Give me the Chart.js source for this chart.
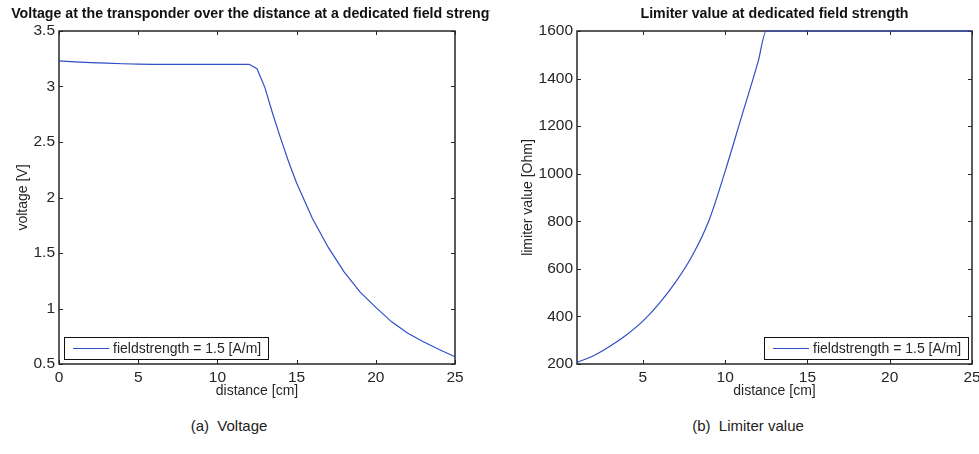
<!DOCTYPE html>
<html>
<head>
<meta charset="utf-8">
<script src="https://cdn.jsdelivr.net/npm/chart.js@4/dist/chart.umd.min.js"></script>
<style>
body { margin: 0; background: #fff; width: 979px; height: 454px; position: relative; overflow: hidden; font-family: "Liberation Sans", Arial, sans-serif; }
.box { position: absolute; top: 0; height: 400px; }
#boxA { left: 0; width: 490px; }
#boxB { left: 490px; width: 489px; }
.cap { position: absolute; top: 417px; font-size: 15px; color: #222; transform: translateX(-50%); white-space: nowrap; }
</style>
</head>
<body>
<div class="box" id="boxA"><canvas id="chartA"></canvas></div>
<div class="box" id="boxB"><canvas id="chartB"></canvas></div>
<div class="cap" style="left:229px">(a)&nbsp; Voltage</div>
<div class="cap" style="left:748px">(b)&nbsp; Limiter value</div>
<script>
// values
let distanceA = [0, 1, 2, 3, 4, 5, 6, 7, 8, 9, 10, 11, 12, 12.5, 13, 13.5, 14, 14.5, 15, 16, 17, 18, 19, 20, 21, 22, 23, 24, 25];
let voltage = [3.23, 3.222, 3.215, 3.21, 3.205, 3.202, 3.2, 3.2, 3.2, 3.2, 3.2, 3.2, 3.2, 3.16, 2.99, 2.75, 2.53, 2.32, 2.13, 1.81, 1.55, 1.33, 1.15, 1.01, 0.88, 0.78, 0.70, 0.63, 0.565];

let distanceB = [1, 2, 3, 4, 5, 6, 7, 8, 9, 10, 11, 12, 12.5, 13, 15, 20, 25];
let limiter = [207, 235, 275, 322, 380, 455, 545, 655, 800, 1010, 1240, 1470, 1600, 1600, 1600, 1600, 1600];

let seriesLabel = 'fieldstrength = 1.5 [A/m]';
let titleA = 'Voltage at the transponder over the distance at a dedicated field strength';
let titleB = 'Limiter value at dedicated field strength';

const ink = '#262626';
const lineBlue = '#2f4fc6';

// matlab style box with inward ticks on all four sides
const axesBox = {
    id: 'axesBox',
    beforeDatasetsDraw(chart) {
        const { ctx, chartArea: a, scales: { x, y } } = chart;
        ctx.save();
        ctx.strokeStyle = ink;
        ctx.lineWidth = 1;
        ctx.beginPath();
        x.ticks.forEach(t => {
            let px = Math.round(x.getPixelForValue(t.value)) + 0.5;
            ctx.moveTo(px, a.bottom); ctx.lineTo(px, a.bottom - 4);
            ctx.moveTo(px, a.top); ctx.lineTo(px, a.top + 4);
        });
        y.ticks.forEach(t => {
            let py = Math.round(y.getPixelForValue(t.value)) + 0.5;
            ctx.moveTo(a.left, py); ctx.lineTo(a.left + 4, py);
            ctx.moveTo(a.right, py); ctx.lineTo(a.right - 4, py);
        });
        ctx.stroke();
        ctx.lineWidth = 1.5;
        ctx.strokeRect(a.left, a.top, a.right - a.left, a.bottom - a.top);
        ctx.restore();
    },
    afterDatasetsDraw(chart, args, opts) {
        const { ctx, chartArea: a } = chart;
        let w = 204, h = 22;
        let bx = opts.side === 'left' ? a.left + 5 : a.right - 4 - w;
        let by = a.bottom - 5 - h;
        ctx.save();
        ctx.fillStyle = '#fff';
        ctx.fillRect(bx, by, w, h);
        ctx.strokeStyle = '#111';
        ctx.lineWidth = 1;
        ctx.strokeRect(bx + 0.5, by + 0.5, w, h);
        ctx.strokeStyle = lineBlue;
        ctx.beginPath();
        ctx.moveTo(bx + 9, by + 11.5); ctx.lineTo(bx + 45, by + 11.5);
        ctx.stroke();
        ctx.fillStyle = ink;
        ctx.font = '14px "Liberation Sans", Arial, sans-serif';
        ctx.textBaseline = 'middle';
        ctx.fillText(seriesLabel, bx + 49, by + 12);
        ctx.restore();
    },
    afterDraw(chart, args, opts) {
        const { ctx, chartArea: a } = chart;
        ctx.save();
        ctx.fillStyle = '#111';
        ctx.font = 'bold 14.2px "Liberation Sans", Arial, sans-serif';
        ctx.textAlign = 'center';
        ctx.textBaseline = 'middle';
        ctx.fillText(opts.title, (a.left + a.right) / 2, 14);
        ctx.restore();
    }
};

makeChart = (id, xs, ys, cfg) => {
    let ctx = document.getElementById(id).getContext('2d');
    return new Chart(ctx, {
        type: 'line',
        data: {
            datasets: [{
                label: seriesLabel,
                data: xs.map((v, i) => ({ x: v, y: ys[i] })),
                borderColor: lineBlue,
                borderWidth: 1.2,
                pointRadius: 0,
                cubicInterpolationMode: cfg.mode,
                tension: 0,
                clip: 2
            }]
        },
        options: {
            responsive: true,
            maintainAspectRatio: false,
            animation: false,
            layout: { padding: { top: 31, right: cfg.padRight, left: 0, bottom: 0 } },
            plugins: {
                legend: { display: false },
                tooltip: { enabled: false },
                axesBox: { title: cfg.title, side: cfg.legendSide }
            },
            scales: {
                x: {
                    type: 'linear',
                    min: cfg.xMin, max: 25,
                    grid: { display: false, drawTicks: false },
                    border: { display: false },
                    ticks: { stepSize: 5, includeBounds: false, padding: 4, maxRotation: 0, color: ink, font: { size: 15.5 } },
                    title: { display: true, text: 'distance [cm]', color: ink, font: { size: 14 }, padding: { top: 0, bottom: 0 } },
                    afterFit: s => { s.height = 36; s.paddingLeft = 0; s.paddingRight = 0; }
                },
                y: {
                    min: cfg.yMin, max: cfg.yMax,
                    grid: { display: false, drawTicks: false },
                    border: { display: false },
                    ticks: { stepSize: cfg.yStep, padding: 4, color: ink, font: { size: 15.5 }, callback: v => String(v) },
                    title: { display: true, text: cfg.yLabel, color: ink, font: { size: 14 }, padding: { top: cfg.yTitlePad, bottom: 0 } },
                    afterFit: s => { s.width = cfg.yWidth; s.paddingTop = 0; s.paddingBottom = 0; }
                }
            }
        },
        plugins: [axesBox]
    });
}

makeChart('chartA', distanceA, voltage, {
    title: titleA, legendSide: 'left', padRight: 35, xMin: 0, mode: 'default',
    yMin: 0.5, yMax: 3.5, yStep: 0.5, yLabel: 'voltage [V]', yTitlePad: 15, yWidth: 59
});
makeChart('chartB', distanceB, limiter, {
    title: titleB, legendSide: 'right', padRight: 7, xMin: 1, mode: 'monotone',
    yMin: 200, yMax: 1600, yStep: 200, yLabel: 'limiter value [Ohm]', yTitlePad: 30, yWidth: 87
});
</script>
</body>
</html>
